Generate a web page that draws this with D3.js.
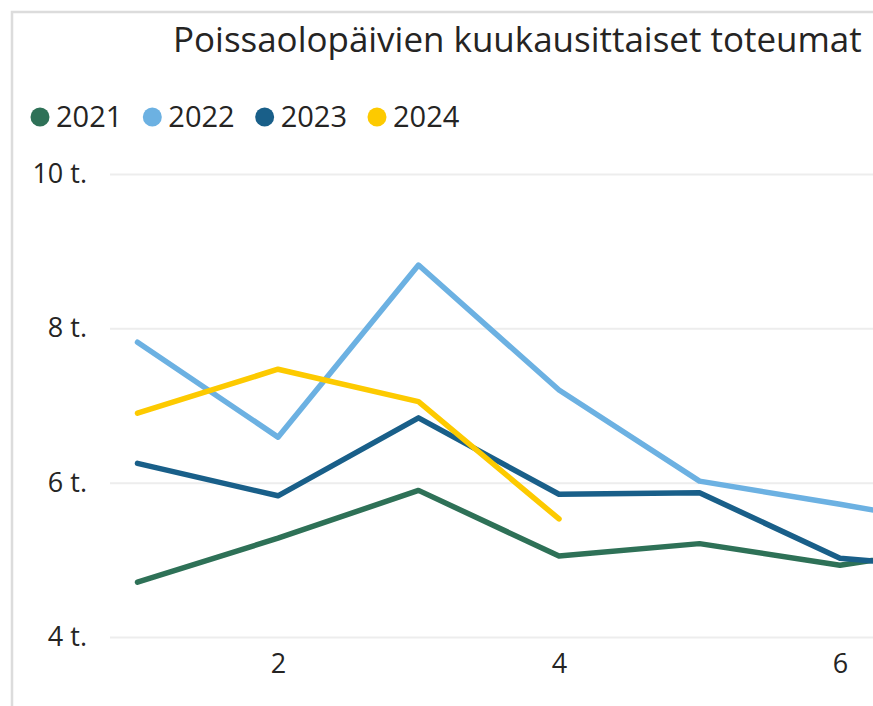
<!DOCTYPE html>
<html>
<head>
<meta charset="utf-8">
<script src="https://cdn.jsdelivr.net/npm/d3@7.9.0/dist/d3.min.js"></script>
<style>
  body { margin: 0; background: #fff; overflow: hidden; }
  svg { display: block; font-family: "Segoe UI", "Open Sans", sans-serif; }
</style>
</head>
<body>
<svg id="chart" width="873" height="706"></svg>
<script>
const title = "Poissaolopäivien kuukausittaiset toteumat";
const months = [1, 2, 3, 4, 5, 6, 7];
const years = ["2021", "2022", "2023", "2024"];
const colors = ["#2e7157", "#6cb1e2", "#195f89", "#fdca00"];
// poissaolopäivät, tuhatta
const v2021 = [4.71, 5.28, 5.90, 5.05, 5.21, 4.93, 5.20];
const v2022 = [7.82, 6.59, 8.82, 7.20, 6.02, 5.72, 5.40];
const v2023 = [6.25, 5.83, 6.84, 5.85, 5.87, 5.02, 4.87];
const v2024 = [6.90, 7.47, 7.05, 5.53];
const yTicks = [4, 6, 8, 10];
const xTicks = [2, 4, 6];

const series = [v2021, v2022, v2023, v2024];

const svg = d3.select("#chart");

// card border (left + top)
svg.append("path")
  .attr("d", "M12,706 V12 H873")
  .attr("fill", "none")
  .attr("stroke", "#dcdcdc")
  .attr("stroke-width", 2.5);

// title, fitted to width
const t = svg.append("text")
  .attr("x", 173)
  .attr("y", 52)
  .attr("fill", "#252423")
  .attr("font-size", 28)
  .text(title);
const tw = t.node().getComputedTextLength();
t.attr("font-size", 28 * 689 / tw);

// legend
let lx = 31;
years.forEach((yr, i) => {
  svg.append("circle")
    .attr("cx", lx + 9)
    .attr("cy", 117)
    .attr("r", 9.5)
    .attr("fill", colors[i]);
  const lt = svg.append("text")
    .attr("x", lx + 25)
    .attr("y", 117)
    .attr("dy", "0.36em")
    .attr("font-size", 29)
    .attr("fill", "#252423")
    .text(yr);
  lx = lx + 25 + lt.node().getComputedTextLength() + 21;
});

const x = d3.scaleLinear().domain([1, 6]).range([137.5, 840]);
const y = d3.scaleLinear().domain([4, 10]).range([637, 174]);

// gridlines + y labels
const yAxis = svg.append("g")
  .attr("transform", "translate(110,0)")
  .call(d3.axisLeft(y).tickValues(yTicks).tickSize(-800).tickPadding(23)
    .tickFormat(d => d + " t."));
yAxis.select(".domain").remove();
yAxis.selectAll(".tick line").attr("stroke", "#ededed").attr("stroke-width", 2);
yAxis.selectAll(".tick text")
  .attr("font-size", 27)
  .attr("font-family", "Segoe UI, Open Sans, sans-serif")
  .attr("fill", "#252423");

const xAxis = svg.append("g")
  .attr("transform", "translate(0,650)")
  .call(d3.axisBottom(x).tickValues(xTicks).tickSize(0).tickPadding(4)
    .tickFormat(d3.format("d")));
xAxis.select(".domain").remove();
xAxis.selectAll(".tick text")
  .attr("font-size", 27)
  .attr("font-family", "Segoe UI, Open Sans, sans-serif")
  .attr("fill", "#252423");

// lines
const line = d3.line()
  .x((d, i) => x(months[i]))
  .y(d => y(d));

series.forEach((vals, i) => {
  svg.append("path")
    .datum(vals)
    .attr("d", line)
    .attr("fill", "none")
    .attr("stroke", colors[i])
    .attr("stroke-width", 5.5)
    .attr("stroke-linejoin", "round")
    .attr("stroke-linecap", "round");
});
</script>
</body>
</html>
